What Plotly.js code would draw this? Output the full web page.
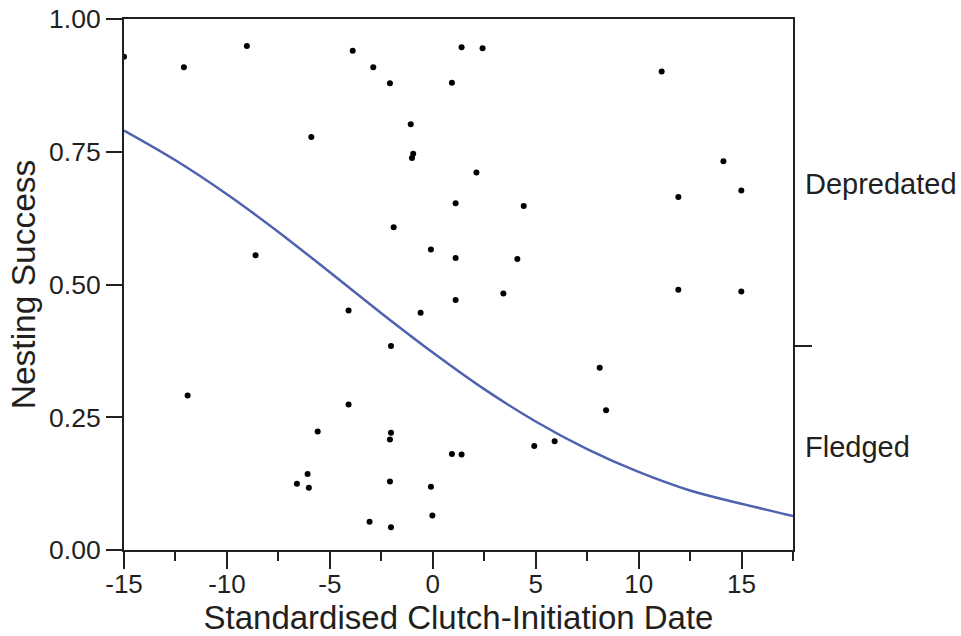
<!DOCTYPE html>
<html>
<head>
<meta charset="utf-8">
<script src="https://cdn.plot.ly/plotly-3.0.1.min.js"></script>
<style>
  html, body { margin: 0; padding: 0; background: #ffffff; }
  #chart { width: 961px; height: 636px; }
</style>
</head>
<body>
<div id="chart"></div>
<script>
// Observed nests: clutch-initiation date (x) and jittered nesting success (y)
const nestDate = [
  -15.00, -12.09, -9.03, -3.89, -2.89, -2.08, 0.93, 1.40, 2.42, 11.12,
  -1.07, -0.95, -1.01, -5.90, 2.12, 14.12, 1.11, 4.42, 11.93, 14.99,
  -1.90, -0.09, 1.11, 4.11, -8.61, 3.43, 11.93, 14.99, 1.11, -4.09,
  -0.59, -2.03, 8.11, -11.91, -4.09, 8.42, -5.59, -2.03, -2.08, 4.93,
  5.92, 0.93, 1.40, -6.08, -6.60, -6.02, -2.08, -0.09, -0.02, -3.07,
  -2.03
];
const nestSuccess = [
  0.929, 0.909, 0.949, 0.940, 0.909, 0.879, 0.880, 0.947, 0.945, 0.901,
  0.802, 0.746, 0.738, 0.778, 0.711, 0.732, 0.653, 0.648, 0.665, 0.677,
  0.608, 0.566, 0.550, 0.548, 0.555, 0.483, 0.490, 0.487, 0.471, 0.451,
  0.447, 0.384, 0.343, 0.291, 0.274, 0.263, 0.223, 0.221, 0.208, 0.196,
  0.205, 0.181, 0.180, 0.143, 0.125, 0.117, 0.129, 0.119, 0.065, 0.053,
  0.043
];

// Fitted curve, values
const curveDate = [-15, -12.5, -10, -7.5, -5, -2.5, 0, 2.5, 5, 7.5, 10, 12.5, 15, 17.5];
const curveSuccess = [0.790, 0.734, 0.670, 0.599, 0.523, 0.446, 0.372, 0.303, 0.242, 0.190, 0.147, 0.112, 0.087, 0.064];

// Axis ticks
const xTicks = [-15, -10, -5, 0, 5, 10, 15];
const xTickText = ["-15", "-10", "-5", "0", "5", "10", "15"];
const yTicks = [0, 0.25, 0.5, 0.75, 1];
const yTickText = ["0.00", "0.25", "0.50", "0.75", "1.00"];
const outcomeBoundary = [0.385];
const outcomeLabels = ["Depredated", "Fledged"];
const outcomeLabelPos = [0.689, 0.194];

const FONT = "Liberation Sans, Arial, sans-serif";
const INK = "#231f20";

const traces = [
  {
    x: nestDate, y: nestSuccess,
    type: "scatter", mode: "markers",
    marker: { color: "#000000", size: 6 },
    cliponaxis: true,
    showlegend: false, hoverinfo: "skip"
  },
  {
    x: curveDate, y: curveSuccess,
    type: "scatter", mode: "lines",
    line: { color: "#4f62b0", width: 2.5, shape: "spline", smoothing: 1 },
    yaxis: "y2",
    showlegend: false, hoverinfo: "skip"
  }
];

const layout = {
  width: 961, height: 636,
  margin: { l: 124, r: 168, t: 19, b: 86, pad: 0 },
  paper_bgcolor: "#ffffff",
  plot_bgcolor: "#ffffff",
  font: { family: FONT, color: INK, size: 26 },
  showlegend: false,
  xaxis: {
    range: [-15, 17.5],
    tickvals: xTicks, ticktext: xTickText,
    ticks: "outside", ticklen: 17, tickwidth: 2, tickcolor: INK,
    ticklabelstandoff: -7,
    minor: { dtick: 2.5, tick0: 0, ticks: "outside", ticklen: 9, tickwidth: 2, tickcolor: INK },
    showline: true, linecolor: INK, linewidth: 2, mirror: true,
    showgrid: false, zeroline: false,
    tickfont: { family: FONT, size: 26, color: INK },
    title: { text: "Standardised Clutch-Initiation Date", font: { family: FONT, size: 33, color: INK }, standoff: 8 }
  },
  yaxis: {
    range: [0, 1],
    tickvals: yTicks, ticktext: yTickText,
    ticks: "outside", ticklen: 16, tickwidth: 2, tickcolor: INK,
    showline: true, linecolor: INK, linewidth: 2, mirror: true,
    showgrid: false, zeroline: false,
    tickfont: { family: FONT, size: 26.5, color: INK },
    title: { text: "Nesting Success", font: { family: FONT, size: 33.5, color: INK }, standoff: 3 }
  },
  yaxis2: {
    range: [0, 1],
    overlaying: "y", side: "right",
    tickvals: outcomeBoundary,
    ticks: "outside", ticklen: 18, tickwidth: 2, tickcolor: INK,
    showticklabels: false,
    showline: false, showgrid: false, zeroline: false
  },
  annotations: outcomeLabels.map((t, i) => ({
    text: t, xref: "paper", yref: "y", x: 1, y: outcomeLabelPos[i],
    xanchor: "left", yanchor: "middle", xshift: 10, showarrow: false,
    font: { family: FONT, size: 29, color: INK }
  }))
};

Plotly.newPlot("chart", traces, layout, { displayModeBar: false, staticPlot: true });
</script>
</body>
</html>
